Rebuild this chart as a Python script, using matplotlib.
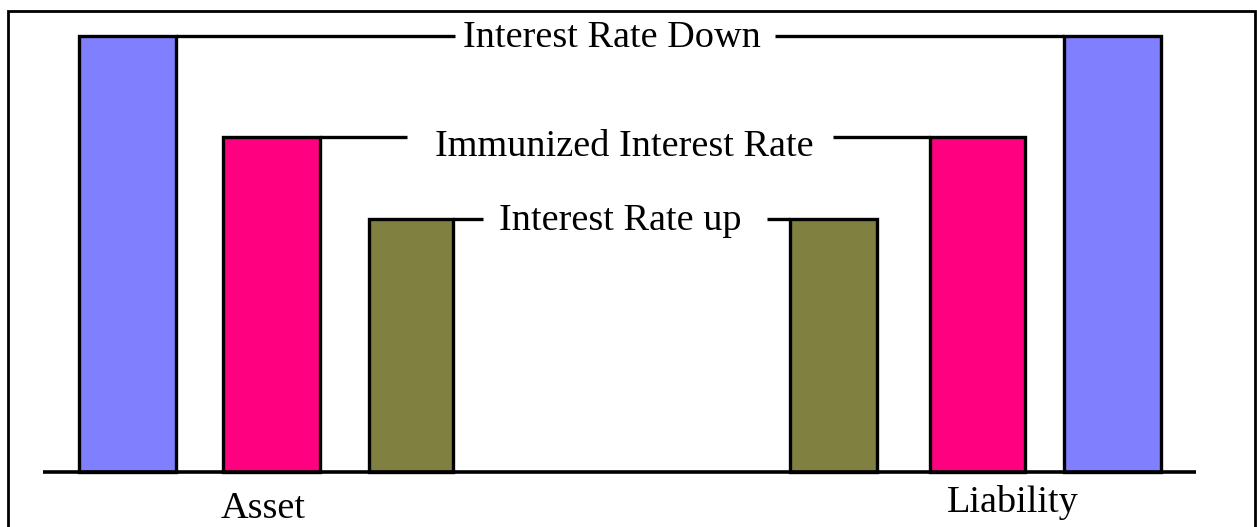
import matplotlib
matplotlib.use("Agg")
import matplotlib.pyplot as plt
from matplotlib.patches import Rectangle

# ---- data ----
scenarios = ["Interest Rate Down", "Immunized Interest Rate", "Interest Rate up"]
asset_values = [10.0, 7.68, 5.80]
liability_values = [10.0, 7.68, 5.80]
group_labels = ["Asset", "Liability"]
colors = ["#8080FF", "#FF0080", "#808040"]

# ---- layout (pixel-like x units) ----
W, H = 1257, 527
base_px = 472
px_per_unit = 43.6
asset_x = [127, 271.5, 411]
asset_w = [97, 97, 84]
liab_x = [1112, 977.5, 833.5]
liab_w = [97, 95, 87]
label_x = [612, 624, 620]
label_dy = [-0.05, -0.21, -0.03]
gaps = [(455, 775), (407, 833), (483, 767)]
group_x = [263, 1013]
group_y_px = [518, 512]

fig = plt.figure(figsize=(W / 100, H / 100), dpi=100)
fig.patch.set_facecolor("white")
ax = fig.add_axes([0, 0, 1, 1])
ax.set_xlim(0, W)
ax.set_ylim(-(H - base_px) / px_per_unit, base_px / px_per_unit)
ax.axis("off")

def py(p):
    return (base_px - p) / px_per_unit

font = dict(family="Liberation Serif", fontsize=27.5, color="black")

ax.bar(asset_x, asset_values, width=asset_w, color=colors, edgecolor="black",
       linewidth=2.4, zorder=3)
ax.bar(liab_x, liability_values, width=liab_w, color=colors, edgecolor="black",
       linewidth=2.4, zorder=3)

for i, name in enumerate(scenarios):
    v = asset_values[i]
    x0 = asset_x[i] + asset_w[i] / 2
    x1 = liab_x[i] - liab_w[i] / 2
    g0, g1 = gaps[i]
    ax.plot([x0, g0], [v, v], color="black", lw=2.4, solid_capstyle="butt", zorder=2)
    ax.plot([g1, x1], [liability_values[i], liability_values[i]], color="black",
            lw=2.4, solid_capstyle="butt", zorder=2)
    ax.text(label_x[i], v + label_dy[i], name, ha="center", va="center", **font)

ax.plot([43, 1196], [0, 0], color="black", lw=2.6, solid_capstyle="butt", zorder=4)

for gx, gy, lab in zip(group_x, group_y_px, group_labels):
    ax.text(gx, py(gy), lab, ha="center", va="baseline", **font)

# outer frame
fig.add_artist(Rectangle((8 / W, -0.01), (1255 - 8) / W, 1 - 11 / H + 0.01,
                         transform=fig.transFigure, fill=False,
                         edgecolor="black", linewidth=2))

fig.savefig("out.png", dpi=100, facecolor="white")
